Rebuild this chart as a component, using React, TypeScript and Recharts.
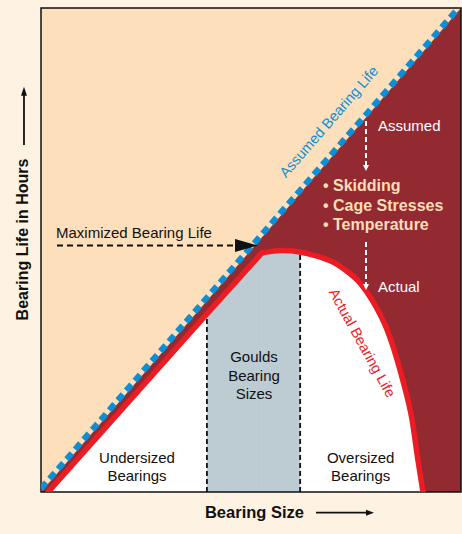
import React from 'react';
import {
  ComposedChart,
  XAxis,
  YAxis,
  Area,
  Line,
  ReferenceLine,
  ReferenceDot,
  ReferenceArea,
  CartesianGrid,
} from 'recharts';

// ---- data (bearing size 0..100 on x, bearing life 0..100 on y) ----
const degradedZone = [
  { x: 0, y: 0 },
  { x: 100, y: 100 },
];
const assumedLife = [
  { x: 0, y: 0.7 },
  { x: 99.4, y: 100 },
];
const risingLife = [
  { x: 1.7, y: 0 },
  { x: 39.5, y: 36.8 },
  { x: 52.6, y: 49.4 },
];
const fallingLife = [
  { x: 52.6, y: 49.4 },
  { x: 57.4, y: 49.9 },
  { x: 61.7, y: 49.6 },
  { x: 66.4, y: 48.55 },
  { x: 70.0, y: 47.3 },
  { x: 72.4, y: 45.9 },
  { x: 75.95, y: 43.2 },
  { x: 78.8, y: 39.7 },
  { x: 82.4, y: 33.5 },
  { x: 84.8, y: 27.3 },
  { x: 86.45, y: 22.1 },
  { x: 88.35, y: 14.9 },
  { x: 89.75, y: 6.6 },
  { x: 90.95, y: 0 },
];
const gouldsRising = risingLife.slice(1);
const gouldsFalling = fallingLife.slice(0, 3);
const leftBound = [
  { x: risingLife[1].x, y: 0 },
  { x: risingLife[1].x, y: risingLife[1].y },
];
const rightBound = [
  { x: fallingLife[2].x, y: 0 },
  { x: fallingLife[2].x, y: fallingLife[2].y },
];

const FONT = '"Liberation Sans", Arial, Helvetica, sans-serif';
const C = {
  page: '#FEF3E2',
  peach: '#FDDFBB',
  dark: '#932A31',
  grey: '#BDCBD2',
  red: '#EC1C24',
  blue: '#0C8FD6',
  peachText: '#FCDDB8',
  white: '#FFFFFF',
  black: '#111111',
};

type Note = {
  text: string;
  x: number;
  y: number;
  anchor?: 'start' | 'middle' | 'end';
  size: number;
  color: string;
  bold?: boolean;
  angle?: number;
  central?: boolean;
};

const notes: Note[] = [
  { text: 'Maximized Bearing Life', x: 3.57, y: 52.58, anchor: 'start', size: 15, color: C.black },
  { text: 'Assumed Bearing Life', x: 68.5, y: 76.5, anchor: 'middle', size: 14.5, color: C.blue, angle: -49, central: true },
  { text: 'Assumed', x: 80.24, y: 74.59, anchor: 'start', size: 15, color: C.white },
  { text: '\u2022 Skidding', x: 67.14, y: 62.19, anchor: 'start', size: 16, color: C.peachText, bold: true },
  { text: '\u2022 Cage Stresses', x: 67.14, y: 58.12, anchor: 'start', size: 16, color: C.peachText, bold: true },
  { text: '\u2022 Temperature', x: 67.14, y: 54.13, anchor: 'start', size: 16, color: C.peachText, bold: true },
  { text: 'Actual', x: 80.24, y: 41.32, anchor: 'start', size: 15, color: C.white },
  { text: 'Actual Bearing Life', x: 76.5, y: 30.8, anchor: 'middle', size: 14.5, color: C.red, angle: 61, central: true },
  { text: 'Goulds', x: 50.71, y: 26.86, anchor: 'middle', size: 15, color: C.black },
  { text: 'Bearing', x: 50.71, y: 22.93, anchor: 'middle', size: 15, color: C.black },
  { text: 'Sizes', x: 50.71, y: 19.15, anchor: 'middle', size: 15, color: C.black },
  { text: 'Undersized', x: 22.86, y: 5.93, anchor: 'middle', size: 15, color: C.black },
  { text: 'Bearings', x: 22.86, y: 2.33, anchor: 'middle', size: 15, color: C.black },
  { text: 'Oversized', x: 76.12, y: 5.93, anchor: 'middle', size: 15, color: C.black },
  { text: 'Bearings', x: 76.12, y: 2.33, anchor: 'middle', size: 15, color: C.black },
  { text: 'Bearing Size', x: 50.83, y: -5.27, anchor: 'middle', size: 16.5, color: C.black, bold: true },
  { text: 'Bearing Life in Hours', x: -3.1, y: 52.17, anchor: 'middle', size: 16, color: C.black, bold: true, angle: -90 },
];

type Seg = { x1: number; y1: number; x2: number; y2: number; color: string; width: number; dash?: string };
const segments: Seg[] = [
  { x1: 3.81, y1: 50.93, x2: 46.43, y2: 50.93, color: C.black, width: 1.8, dash: '6 4' },
  { x1: 77.38, y1: 76.65, x2: 77.38, y2: 67.36, color: C.white, width: 2, dash: '5 3' },
  { x1: 77.38, y1: 51.65, x2: 77.38, y2: 42.77, color: C.white, width: 2, dash: '5 3' },
  { x1: 65.48, y1: -4.28, x2: 78.1, y2: -4.28, color: C.black, width: 1.8 },
  { x1: -4.05, y1: 71.69, x2: -4.05, y2: 82.0, color: C.black, width: 1.8 },
];

type Head = { x: number; y: number; dir: 'right' | 'down' | 'up'; len: number; half: number; color: string };
const heads: Head[] = [
  { x: 51.67, y: 50.93, dir: 'right', len: 23, half: 6.5, color: C.black },
  { x: 77.38, y: 66.32, dir: 'down', len: 6, half: 3, color: C.white },
  { x: 77.38, y: 41.74, dir: 'down', len: 6, half: 3, color: C.white },
  { x: 79.29, y: -4.28, dir: 'right', len: 8, half: 3, color: C.black },
  { x: -4.05, y: 83.74, dir: 'up', len: 9, half: 3, color: C.black },
];

const noteLabel = (n: Note) => (props: any) => {
  const vb = props.viewBox || {};
  const x = vb.x ?? 0;
  const y = vb.y ?? 0;
  return (
    <text
      x={x}
      y={y}
      textAnchor={n.anchor || 'start'}
      dominantBaseline={n.central ? 'central' : 'alphabetic'}
      fill={n.color}
      fontSize={n.size}
      fontWeight={n.bold ? 'bold' : 'normal'}
      fontFamily={FONT}
      transform={n.angle ? `rotate(${n.angle} ${x} ${y})` : undefined}
    >
      {n.text}
    </text>
  );
};

const headShape = (h: Head) => (props: any) => {
  const { cx, cy } = props;
  let pts = '';
  if (h.dir === 'right') pts = `${cx},${cy} ${cx - h.len},${cy - h.half} ${cx - h.len},${cy + h.half}`;
  if (h.dir === 'down') pts = `${cx},${cy} ${cx - h.half},${cy - h.len} ${cx + h.half},${cy - h.len}`;
  if (h.dir === 'up') pts = `${cx},${cy} ${cx - h.half},${cy + h.len} ${cx + h.half},${cy + h.len}`;
  return <polygon points={pts} fill={h.color} />;
};

export default function App() {
  return (
    <div
      style={{
        position: 'absolute',
        left: 0,
        top: 0,
        width: 462,
        height: 534,
        background: C.page,
      }}
    >
      <ComposedChart
        width={462}
        height={534}
        margin={{ top: 8, right: 1, bottom: 42, left: 41 }}
      >
        <CartesianGrid horizontal={false} vertical={false} fill={C.peach} stroke="none" />
        <XAxis type="number" dataKey="x" domain={[0, 100]} allowDataOverflow hide />
        <YAxis type="number" dataKey="y" domain={[0, 100]} allowDataOverflow hide />

        <Area data={degradedZone} dataKey="y" type="linear" fill={C.dark} fillOpacity={1} stroke="none" isAnimationActive={false} />
        <Area data={risingLife} dataKey="y" type="linear" fill={C.white} fillOpacity={1} stroke="none" isAnimationActive={false} />
        <Area data={fallingLife} dataKey="y" type="monotone" fill={C.white} fillOpacity={1} stroke="none" isAnimationActive={false} />
        <Area data={gouldsRising} dataKey="y" type="linear" fill={C.grey} fillOpacity={1} stroke="none" isAnimationActive={false} />
        <Area data={gouldsFalling} dataKey="y" type="monotone" fill={C.grey} fillOpacity={1} stroke="none" isAnimationActive={false} />

        <Line data={leftBound} dataKey="y" type="linear" stroke={C.black} strokeWidth={1.8} strokeDasharray="5 3" dot={false} activeDot={false} isAnimationActive={false} />
        <Line data={rightBound} dataKey="y" type="linear" stroke={C.black} strokeWidth={1.8} strokeDasharray="5 3" dot={false} activeDot={false} isAnimationActive={false} />

        <Line data={assumedLife} dataKey="y" type="linear" stroke={C.blue} strokeWidth={6} strokeDasharray="8 5" dot={false} activeDot={false} isAnimationActive={false} />
        <Line data={risingLife} dataKey="y" type="linear" stroke={C.red} strokeWidth={5.5} strokeLinecap="round" dot={false} activeDot={false} isAnimationActive={false} />
        <Line data={fallingLife} dataKey="y" type="monotone" stroke={C.red} strokeWidth={5.5} strokeLinecap="round" dot={false} activeDot={false} isAnimationActive={false} />

        {segments.map((s, i) => (
          <ReferenceLine
            key={'s' + i}
            segment={[{ x: s.x1, y: s.y1 }, { x: s.x2, y: s.y2 }]}
            stroke={s.color}
            strokeWidth={s.width}
            strokeDasharray={s.dash}
            ifOverflow="visible"
          />
        ))}
        {heads.map((h, i) => (
          <ReferenceDot key={'h' + i} x={h.x} y={h.y} r={3} ifOverflow="visible" shape={headShape(h)} />
        ))}
        {notes.map((n, i) => (
          <ReferenceDot
            key={'n' + i}
            x={n.x}
            y={n.y}
            r={0}
            fill="none"
            stroke="none"
            ifOverflow="visible"
            label={noteLabel(n)}
          />
        ))}
        <ReferenceArea x1={0} x2={100} y1={0} y2={100} fill="none" stroke={C.black} strokeWidth={1.5} ifOverflow="visible" />
      </ComposedChart>
    </div>
  );
}
